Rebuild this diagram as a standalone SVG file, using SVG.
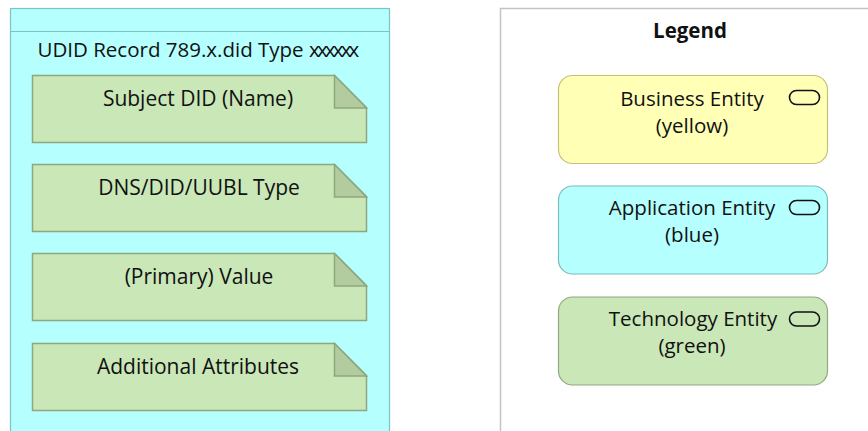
<svg xmlns="http://www.w3.org/2000/svg" width="868" height="431" viewBox="0 0 868 431">
  <style>
    text { font-family: "Open Sans", "Noto Sans", "Liberation Sans", sans-serif; fill: #111; }
    .lbl { font-size: 20.5px; text-anchor: middle; }
    .wide { font-size: 21px; }
    .bold { font-weight: bold; }
    .app { fill: #b5ffff; stroke: #7cc4c4; stroke-width: 1.2; }
    .note { fill: #c9e7b7; stroke: #8fa77e; stroke-width: 1.5; }
    .fold { fill: #b3cc9f; stroke: #8fa77e; stroke-width: 1.5; }
    .biz { fill: #ffffb5; stroke: #c4c27a; stroke-width: 1.2; }
    .tech { fill: #c9e7b7; stroke: #92a883; stroke-width: 1.2; }
    .appbox { fill: #b5ffff; stroke: #7cbcbc; stroke-width: 1.2; }
    .legend { fill: #ffffff; stroke: #c4c4c4; stroke-width: 1.5; }
    .icon { fill: none; stroke: #111; stroke-width: 1.6; }
  </style>
  <defs>
    <g id="artifact">
      <path class="note" d="M32.5,75.5 H334.5 L366.5,107.5 V142.5 H32.5 Z"/>
      <path class="fold" d="M334.5,75.5 V108 H366.5 Z"/>
    </g>
    <rect id="entityIcon" class="icon" x="789.5" y="0" width="30" height="14" rx="7"/>
  </defs>

  <rect width="868" height="431" fill="#ffffff"/>

  <!-- UDID record grouping -->
  <g id="udid-record">
    <rect class="app" x="10.5" y="8.5" width="379" height="440"/>
    <line x1="10.5" y1="31.5" x2="389.5" y2="31.5" stroke="#7cc4c4" stroke-width="1.2"/>
    <text class="lbl" x="197" y="57">UDID Record 789.x.did Type <tspan letter-spacing="-2.8">xxxxxx</tspan></text>
  </g>

  <g id="subject-did">
    <use href="#artifact"/>
    <text class="lbl wide" x="198" y="106">Subject DID (Name)</text>
  </g>
  <g id="dns-did-uubl-type" transform="translate(0,89)">
    <use href="#artifact"/>
    <text class="lbl wide" x="199" y="106">DNS/DID/UUBL Type</text>
  </g>
  <g id="primary-value" transform="translate(0,178)">
    <use href="#artifact"/>
    <text class="lbl wide" x="199" y="106">(Primary) Value</text>
  </g>
  <g id="additional-attributes" transform="translate(0,268)">
    <use href="#artifact"/>
    <text class="lbl wide" x="198" y="106">Additional Attributes</text>
  </g>

  <!-- Legend -->
  <g id="legend">
    <rect class="legend" x="500.5" y="8.5" width="400" height="440"/>
    <text class="lbl bold" x="690" y="38">Legend</text>
  </g>

  <g id="business-entity">
    <rect class="biz" x="558.5" y="75.5" width="269" height="88" rx="14"/>
    <use href="#entityIcon" y="90.5"/>
    <text class="lbl" x="692" y="106">Business Entity</text>
    <text class="lbl" x="692" y="133">(yellow)</text>
  </g>
  <g id="application-entity">
    <rect class="appbox" x="558.5" y="186" width="269" height="88" rx="14"/>
    <use href="#entityIcon" y="200.5"/>
    <text class="lbl" x="692" y="215">Application Entity</text>
    <text class="lbl" x="692" y="242">(blue)</text>
  </g>
  <g id="technology-entity">
    <rect class="tech" x="558.5" y="297" width="269" height="88" rx="14"/>
    <use href="#entityIcon" y="312"/>
    <text class="lbl" x="693" y="326">Technology Entity</text>
    <text class="lbl" x="692" y="353">(green)</text>
  </g>

  <!-- no connectors in this view -->
  <g id="connectors"/>
</svg>
